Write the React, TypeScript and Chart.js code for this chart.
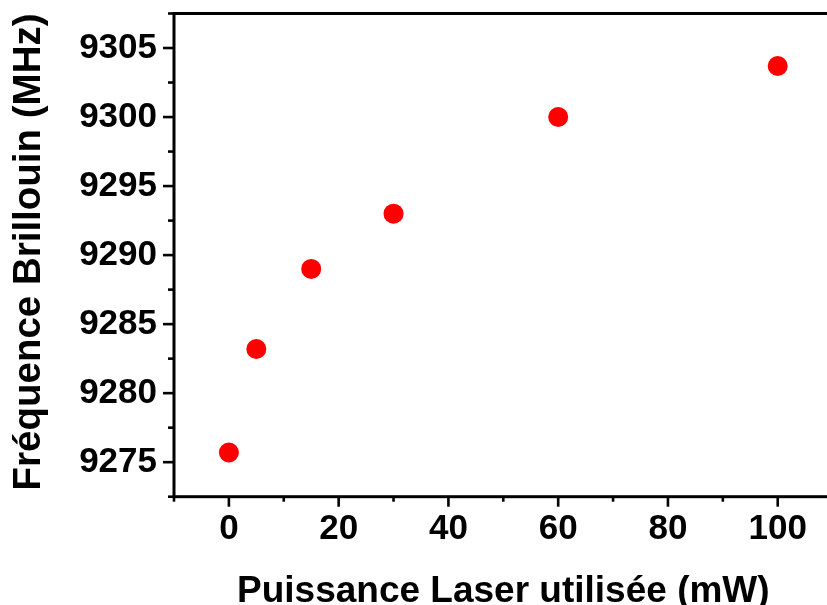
import React, { useEffect, useRef } from "react";
import { Chart, registerables } from "chart.js";

Chart.register(...registerables);

// ---- data ----
const powerMW = [0, 5, 15, 30, 60, 100];
const brillouinMHz = [9275.7, 9283.2, 9289.0, 9293.0, 9300.0, 9303.7];
const xMajorTicks = [0, 20, 40, 60, 80, 100];
const xMinorTicks = [-10, 10, 30, 50, 70, 90, 110];
const yMajorTicks = [9275, 9280, 9285, 9290, 9295, 9300, 9305];
const yMinorTicks = [9272.5, 9277.5, 9282.5, 9287.5, 9292.5, 9297.5, 9302.5, 9307.5];
const xRange = [-10, 110];
const yRange = [9272.5, 9307.5];
const xTitle = "Puissance Laser utilisée (mW)";
const yTitle = "Fréquence Brillouin (MHz)";

const FONT = "'Liberation Sans', Arial, Helvetica, sans-serif";
const CANVAS_W = 845;
const CANVAS_H = 620;

const framePlugin = {
  id: "frame",
  afterDraw(chart: any) {
    const { ctx, chartArea: a, scales } = chart;
    const sx = scales.x;
    const sy = scales.y;
    ctx.save();
    ctx.strokeStyle = "#000";
    ctx.lineWidth = 3;
    ctx.lineCap = "butt";
    ctx.strokeRect(a.left, a.top, a.right - a.left, a.bottom - a.top);
    const seg = (x1: number, y1: number, x2: number, y2: number) => {
      ctx.beginPath();
      ctx.moveTo(x1, y1);
      ctx.lineTo(x2, y2);
      ctx.stroke();
    };
    ctx.lineWidth = 2.6;
    xMajorTicks.forEach((v) => {
      const p = sx.getPixelForValue(v);
      seg(p, a.bottom, p, a.bottom + 10);
    });
    xMinorTicks.forEach((v) => {
      const p = sx.getPixelForValue(v);
      seg(p, a.bottom, p, a.bottom + 5);
    });
    yMajorTicks.forEach((v) => {
      const p = sy.getPixelForValue(v);
      seg(a.left, p, a.left - 11, p);
    });
    yMinorTicks.forEach((v) => {
      const p = sy.getPixelForValue(v);
      seg(a.left, p, a.left - 6, p);
    });
    ctx.restore();
  },
};

export default function App() {
  const ref = useRef<HTMLCanvasElement | null>(null);

  useEffect(() => {
    if (!ref.current) return;
    const chart = new Chart(ref.current, {
      type: "scatter",
      data: {
        datasets: [
          {
            data: powerMW.map((x, i) => ({ x, y: brillouinMHz[i] })),
            backgroundColor: "#ff0000",
            borderColor: "#ff0000",
            borderWidth: 0,
            pointRadius: 10,
            pointHoverRadius: 10,
          },
        ],
      },
      options: {
        animation: false,
        responsive: false,
        devicePixelRatio: 1,
        layout: { padding: { top: 13.5, right: CANVAS_W - 832.6, left: 0, bottom: 0 } },
        plugins: { legend: { display: false }, tooltip: { enabled: false } },
        scales: {
          x: {
            type: "linear",
            min: xRange[0],
            max: xRange[1],
            afterBuildTicks: (s: any) => {
              s.ticks = xMajorTicks.map((v) => ({ value: v }));
            },
            afterFit: (s: any) => {
              s.height = CANVAS_H - 496.7;
              s.paddingLeft = 0;
              s.paddingRight = 0;
            },
            grid: { display: false, drawTicks: false },
            border: { display: false },
            ticks: {
              color: "#000",
              font: { family: FONT, size: 35, weight: "bold", lineHeight: 1.2 },
              padding: 11.5,
              maxRotation: 0,
              autoSkip: false,
              callback: (v: any) => String(v),
            },
            title: {
              display: true,
              text: xTitle,
              color: "#000",
              font: { family: FONT, size: 37, weight: "bold", lineHeight: 1.2 },
              padding: { top: 0, bottom: 6.3 },
            },
          },
          y: {
            type: "linear",
            min: yRange[0],
            max: yRange[1],
            afterBuildTicks: (s: any) => {
              s.ticks = yMajorTicks.map((v) => ({ value: v }));
            },
            afterFit: (s: any) => {
              s.width = 174;
              s.paddingTop = 0;
              s.paddingBottom = 0;
            },
            grid: { display: false, drawTicks: false },
            border: { display: false },
            ticks: {
              color: "#000",
              font: { family: FONT, size: 35, weight: "bold", lineHeight: 1.2 },
              padding: 17,
              autoSkip: false,
              callback: (v: any) => String(v),
            },
            title: {
              display: true,
              text: yTitle,
              align: "end",
              color: "#000",
              font: { family: FONT, size: 38.5, weight: "bold", lineHeight: 1.2 },
              padding: { top: 6.4, bottom: 0 },
            },
          },
        },
      },
      plugins: [framePlugin],
    });
    return () => chart.destroy();
  }, []);

  return (
    <div
      style={{
        position: "fixed",
        left: 0,
        top: 0,
        width: 827,
        height: 605,
        overflow: "hidden",
        background: "#fff",
      }}
    >
      <canvas ref={ref} width={CANVAS_W} height={CANVAS_H} style={{ display: "block" }} />
    </div>
  );
}
